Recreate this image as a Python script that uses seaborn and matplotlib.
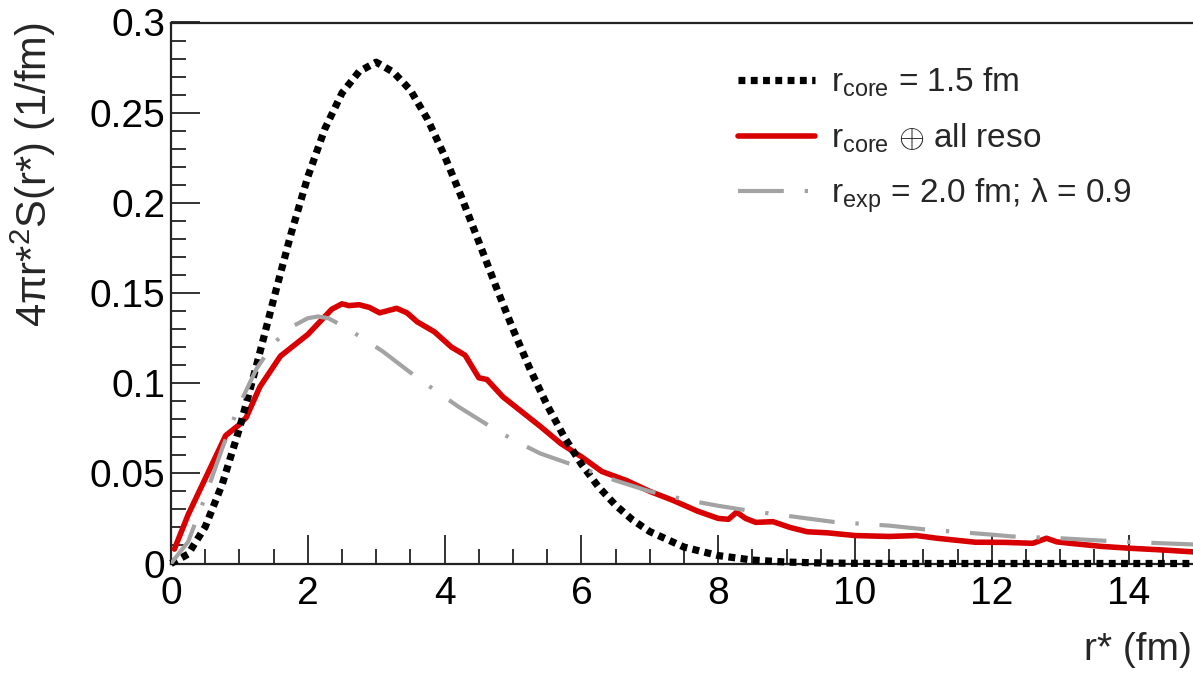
import matplotlib
matplotlib.use("Agg")
import matplotlib.pyplot as plt
import seaborn as sns
import pandas as pd
from matplotlib.ticker import MultipleLocator, FuncFormatter

# Gaussian core source, r_core = 1.5 fm
r_core = [0.0, 0.25, 0.5, 0.75, 1.0, 1.25, 1.5, 1.75, 2.0, 2.25, 2.5, 2.75,
          3.0, 3.25, 3.5, 3.75, 4.0, 4.25, 4.5, 4.75, 5.0, 5.25, 5.5, 5.75,
          6.0, 6.25, 6.5, 6.75, 7.0, 7.5, 8.0, 8.5, 9.0, 9.5, 10.0, 11.0,
          12.0, 13.0, 14.0, 15.0]
s_core = [0.0, 0.0052, 0.0203, 0.0441, 0.0748, 0.1098, 0.1465, 0.1822,
          0.2144, 0.2411, 0.2609, 0.2728, 0.2780, 0.2725, 0.2625, 0.2464,
          0.2260, 0.2029, 0.1784, 0.1537, 0.1299, 0.1077, 0.0877, 0.0701,
          0.0551, 0.0425, 0.0323, 0.0241, 0.0177, 0.0091, 0.0044, 0.0019,
          0.0008, 0.0003, 0.0001, 0.0, 0.0, 0.0, 0.0, 0.0]

# Core source folded with all resonances
r_reso = [0.05, 0.25, 0.5, 0.8, 1.0, 1.1, 1.3, 1.6, 1.8, 2.0, 2.2, 2.35,
          2.5, 2.6, 2.75, 2.9, 3.05, 3.3, 3.45, 3.6, 3.85, 4.1, 4.3, 4.5,
          4.62, 4.85, 5.15, 5.4, 5.7, 6.0, 6.3, 6.66, 7.0, 7.34, 7.7, 8.0,
          8.15, 8.27, 8.4, 8.55, 8.8, 9.05, 9.3, 9.6, 10.0, 10.5, 10.9,
          11.2, 11.76, 12.2, 12.6, 12.8, 12.95, 13.2, 13.6, 14.0, 14.5, 15.0]
s_reso = [0.008, 0.027, 0.047, 0.071, 0.077, 0.081, 0.098, 0.115, 0.121,
          0.127, 0.135, 0.141, 0.144, 0.143, 0.1435, 0.142, 0.139, 0.1415,
          0.139, 0.134, 0.1285, 0.120, 0.1155, 0.103, 0.102, 0.0925,
          0.0835, 0.076, 0.0665, 0.0592, 0.051, 0.046, 0.040, 0.035, 0.029,
          0.025, 0.0245, 0.0285, 0.025, 0.0228, 0.0232, 0.020, 0.0176,
          0.0170, 0.0155, 0.0150, 0.0155, 0.0140, 0.0118, 0.0117, 0.0112,
          0.0140, 0.0120, 0.0110, 0.0095, 0.0085, 0.0075, 0.0063]

# Effective exponential source, r_exp = 2.0 fm, lambda = 0.9
r_exp = [0.0, 0.25, 0.5, 0.75, 1.0, 1.25, 1.5, 1.75, 2.0, 2.15, 2.3, 2.5,
         2.8, 3.1, 3.6, 3.9, 4.2, 4.75, 5.05, 5.4, 6.0, 6.5, 7.0, 7.5, 8.0,
         8.5, 9.0, 9.7, 10.5, 11.0, 12.0, 12.3, 13.0, 13.7, 14.3, 15.0]
s_exp = [0.0, 0.012, 0.037, 0.064, 0.088, 0.108, 0.122, 0.131, 0.136,
         0.137, 0.136, 0.132, 0.125, 0.1175, 0.103, 0.095, 0.087, 0.074,
         0.0676, 0.061, 0.053, 0.046, 0.040, 0.0355, 0.032, 0.029, 0.0265,
         0.023, 0.021, 0.019, 0.016, 0.015, 0.014, 0.0125, 0.0115, 0.0105]

labels = [r"r$_\mathregular{core}$ = 1.5 fm",
          r"r$_\mathregular{core}$ $\oplus$ all reso",
          r"r$_\mathregular{exp}$ = 2.0 fm; λ = 0.9"]

sns.set_theme(style="ticks")
plt.rcParams["font.family"] = ["Liberation Sans", "DejaVu Sans"]
plt.rcParams["mathtext.fontset"] = "custom"
plt.rcParams["mathtext.rm"] = "Liberation Sans"
plt.rcParams["mathtext.it"] = "Liberation Sans:italic"
plt.rcParams["mathtext.bf"] = "Liberation Sans:bold"

W, H = 1193, 676
fig = plt.figure(figsize=(W / 100, H / 100), dpi=100)
fig.patch.set_facecolor("white")
ax = fig.add_axes([171 / W, 112.5 / H, (1197 - 171) / W, 541 / H])
ax.set_facecolor("white")

df_core = pd.DataFrame({"r": r_core, "s": s_core})
df_reso = pd.DataFrame({"r": r_reso, "s": s_reso})
df_exp = pd.DataFrame({"r": r_exp, "s": s_exp})

sns.lineplot(data=df_reso, x="r", y="s", ax=ax, color="#d80000", lw=4.0,
             label=labels[1], zorder=3)
sns.lineplot(data=df_core, x="r", y="s", ax=ax, color="black", lw=5.2,
             linestyle=(0, (0.95, 0.75)), dash_capstyle="butt",
             label=labels[0], clip_on=False, zorder=4)
sns.lineplot(data=df_exp, x="r", y="s", ax=ax, color="#a3a3a3", lw=3.0,
             linestyle=(0, (11, 5, 0.8, 5)), dash_capstyle="butt",
             label=labels[2], zorder=5)

ax.set_xlim(0, 15)
ax.set_ylim(0, 0.3)

ax.xaxis.set_major_locator(MultipleLocator(2))
ax.xaxis.set_minor_locator(MultipleLocator(0.5))
ax.yaxis.set_major_locator(MultipleLocator(0.05))
ax.yaxis.set_minor_locator(MultipleLocator(0.01))
ax.yaxis.set_major_formatter(FuncFormatter(lambda v, p: f"{v:g}"))

ax.tick_params(which="both", direction="in", colors="#222222",
               labelcolor="black", width=1.3, top=False, right=False)
ax.tick_params(which="major", length=21, labelsize=28)
ax.tick_params(axis="x", which="major", pad=9)
ax.tick_params(axis="y", which="major", pad=4)
ax.tick_params(which="minor", length=10.5)

for side in ["left", "bottom", "top", "right"]:
    ax.spines[side].set_visible(True)
    ax.spines[side].set_color("#222222")
    ax.spines[side].set_linewidth(1.6)

ax.set_xlabel("r* (fm)", fontsize=28, ha="right", va="top")
ax.xaxis.set_label_coords((1192 - 171) / 1026, -(632 - 563.5) / 541)
ax.set_ylabel("4πr*$^\\mathregular{2}$S(r*) (1/fm)", fontsize=30, loc="top")
ax.yaxis.set_label_coords((58 - 171) / 1026, 1.0)

handles, lbls = ax.get_legend_handles_labels()
order = [lbls.index(l) for l in labels]
leg = ax.legend([handles[i] for i in order], [lbls[i] for i in order],
                loc="upper left", bbox_to_anchor=(738 / W, 1 - 66 / H),
                bbox_transform=fig.transFigure, frameon=False, fontsize=24,
                handlelength=2.3, handletextpad=0.5, labelspacing=0.66,
                borderpad=0, borderaxespad=0)

fig.savefig("out.png", dpi=100, facecolor="white")
